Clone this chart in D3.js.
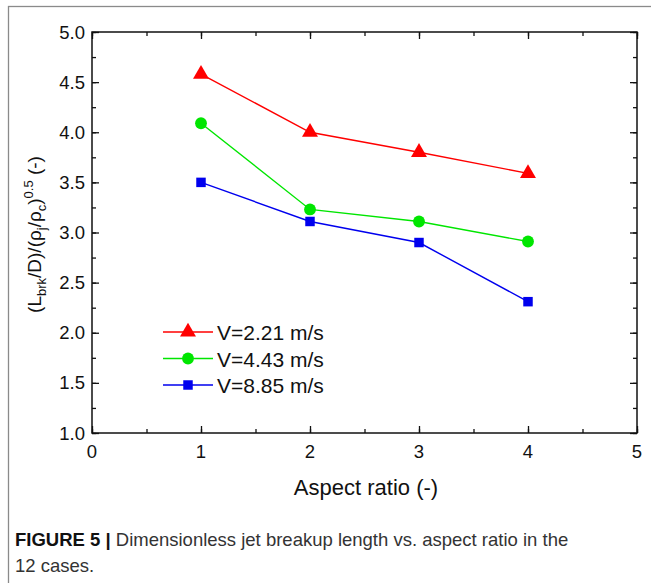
<!DOCTYPE html>
<html>
<head>
<meta charset="utf-8">
<script src="https://cdn.jsdelivr.net/npm/d3@7"></script>
<style>
  body { margin: 0; background: #fff; }
  svg { display: block; font-family: "Liberation Sans", Arial, sans-serif; }
</style>
</head>
<body>
<div id="chart"></div>
<script>
const aspectRatio = [1, 2, 3, 4]
const seriesNames = ["V=2.21 m/s", "V=4.43 m/s", "V=8.85 m/s"]
const v221 = [4.58, 4.00, 3.80, 3.59]
const v443 = [4.09, 3.23, 3.11, 2.91]
const v885 = [3.50, 3.11, 2.90, 2.31]
const xTicks = [0, 1, 2, 3, 4, 5]
const yTicks = [1.0, 1.5, 2.0, 2.5, 3.0, 3.5, 4.0, 4.5, 5.0]

const W = 651, H = 583
const MARGIN = { LEFT: 92, TOP: 32, RIGHT: 14, BOTTOM: 150 }
const WIDTH = W - MARGIN.LEFT - MARGIN.RIGHT
const HEIGHT = H - MARGIN.TOP - MARGIN.BOTTOM

const svg = d3.select("#chart").append("svg")
  .attr("width", W)
  .attr("height", H)

// outer figure frame
svg.append("rect")
  .attr("x", 8.5).attr("y", 6.5)
  .attr("width", 700).attr("height", 700)
  .attr("fill", "none")
  .attr("stroke", "#8a8a8a")
  .attr("stroke-width", 1.3)

const g = svg.append("g")
  .attr("transform", `translate(${MARGIN.LEFT}, ${MARGIN.TOP})`)

const x = d3.scaleLinear().domain([0, 5]).range([0, WIDTH])
const y = d3.scaleLinear().domain([1, 5]).range([HEIGHT, 0])

// inward ticks on all four sides
const xMinor = d3.range(0, 5.01, 0.5)
const yMinor = d3.range(1, 5.01, 0.25)

const makers = [
  () => d3.axisBottom(x), () => d3.axisTop(x),
  () => d3.axisLeft(y), () => d3.axisRight(y)
]
const offsets = [[0, HEIGHT], [0, 0], [0, 0], [WIDTH, 0]]

makers.forEach(function (mk, i) {
  const isX = i < 2
  const sets = [[isX ? xMinor : yMinor, -4], [isX ? xTicks : yTicks, -7]]
  sets.forEach(function (s) {
    const ga = g.append("g")
      .attr("transform", `translate(${offsets[i][0]},${offsets[i][1]})`)
      .call(mk().tickValues(s[0]).tickSize(s[1]).tickFormat(""))
    ga.select(".domain").remove()
    ga.selectAll("line").attr("stroke", "#111").attr("stroke-width", 1.3)
  })
})

g.append("rect")
  .attr("width", WIDTH).attr("height", HEIGHT)
  .attr("fill", "none")
  .attr("stroke", "#111")
  .attr("stroke-width", 1.5)

// tick labels
g.selectAll(".xlab").data(xTicks).enter().append("text")
  .attr("x", d => x(d))
  .attr("y", HEIGHT + 25)
  .attr("text-anchor", "middle")
  .attr("font-size", 18.5)
  .attr("fill", "#111")
  .text(d => d)

g.selectAll(".ylab").data(yTicks).enter().append("text")
  .attr("x", -7)
  .attr("y", d => y(d) + 6.5)
  .attr("text-anchor", "end")
  .attr("font-size", 18.5)
  .attr("fill", "#111")
  .text(d => d.toFixed(1))

// axis titles
g.append("text")
  .attr("x", 274)
  .attr("y", HEIGHT + 62)
  .attr("text-anchor", "middle")
  .attr("font-size", 22)
  .attr("fill", "#111")
  .text("Aspect ratio (-)")

const yTitle = g.append("text")
  .attr("transform", `translate(-51, ${HEIGHT / 2 + 2}) rotate(-90)`)
  .attr("text-anchor", "middle")
  .attr("font-size", 19)
  .attr("fill", "#111")
yTitle.append("tspan").text("(L")
yTitle.append("tspan").attr("font-size", 13).attr("dy", 5).text("brk")
yTitle.append("tspan").attr("dy", -5).text("/D)/(\u03c1")
yTitle.append("tspan").attr("font-size", 13).attr("dy", 5).text("j")
yTitle.append("tspan").attr("dy", -5).text("/\u03c1")
yTitle.append("tspan").attr("font-size", 13).attr("dy", 5).text("c")
yTitle.append("tspan").attr("dy", -5).text(")")
yTitle.append("tspan").attr("font-size", 13).attr("dy", -8).text("0.5")
yTitle.append("tspan").attr("dy", 8).text(" (-)")

// series
const series = [
  { name: seriesNames[0], values: v221, color: "#ff0000", shape: d3.symbolTriangle, size: 110 },
  { name: seriesNames[1], values: v443, color: "#00e600", shape: d3.symbolCircle, size: 110 },
  { name: seriesNames[2], values: v885, color: "#0000ee", shape: d3.symbolSquare, size: 90 }
]

const line = d3.line()
  .x((d, i) => x(aspectRatio[i]))
  .y(d => y(d))

series.forEach(function (s) {
  g.append("path")
    .datum(s.values)
    .attr("d", line)
    .attr("fill", "none")
    .attr("stroke", s.color)
    .attr("stroke-width", 1.4)
  g.selectAll(null).data(s.values).enter().append("path")
    .attr("transform", (d, i) => `translate(${x(aspectRatio[i])},${y(d)})`)
    .attr("d", d3.symbol().type(s.shape).size(s.size))
    .attr("fill", s.color)
})

// legend
const legend = g.append("g").attr("transform", "translate(71, 300)")
series.forEach(function (s, i) {
  const row = legend.append("g").attr("transform", `translate(0, ${i * 26.5})`)
  row.append("line")
    .attr("x1", 0).attr("x2", 50)
    .attr("stroke", s.color).attr("stroke-width", 1.4)
  row.append("path")
    .attr("transform", "translate(25,0)")
    .attr("d", d3.symbol().type(s.shape).size(s.size))
    .attr("fill", s.color)
  row.append("text")
    .attr("x", 54)
    .attr("y", 8)
    .attr("font-size", 21)
    .attr("fill", "#111")
    .text(s.name)
})

// caption
const capFont = "'Liberation Sans Narrow', 'Liberation Sans', Arial, sans-serif"
const cap = svg.append("text")
  .attr("x", 15)
  .attr("y", 546)
  .attr("font-size", 18.5)
  .attr("fill", "#333")
  .attr("font-family", capFont)
cap.append("tspan").attr("font-weight", "bold").attr("fill", "#111").text("FIGURE 5 | ")
cap.append("tspan").text("Dimensionless jet breakup length vs. aspect ratio in the")
svg.append("text")
  .attr("x", 15)
  .attr("y", 572)
  .attr("font-size", 18.5)
  .attr("fill", "#333")
  .attr("font-family", capFont)
  .text("12 cases.")
</script>
</body>
</html>
